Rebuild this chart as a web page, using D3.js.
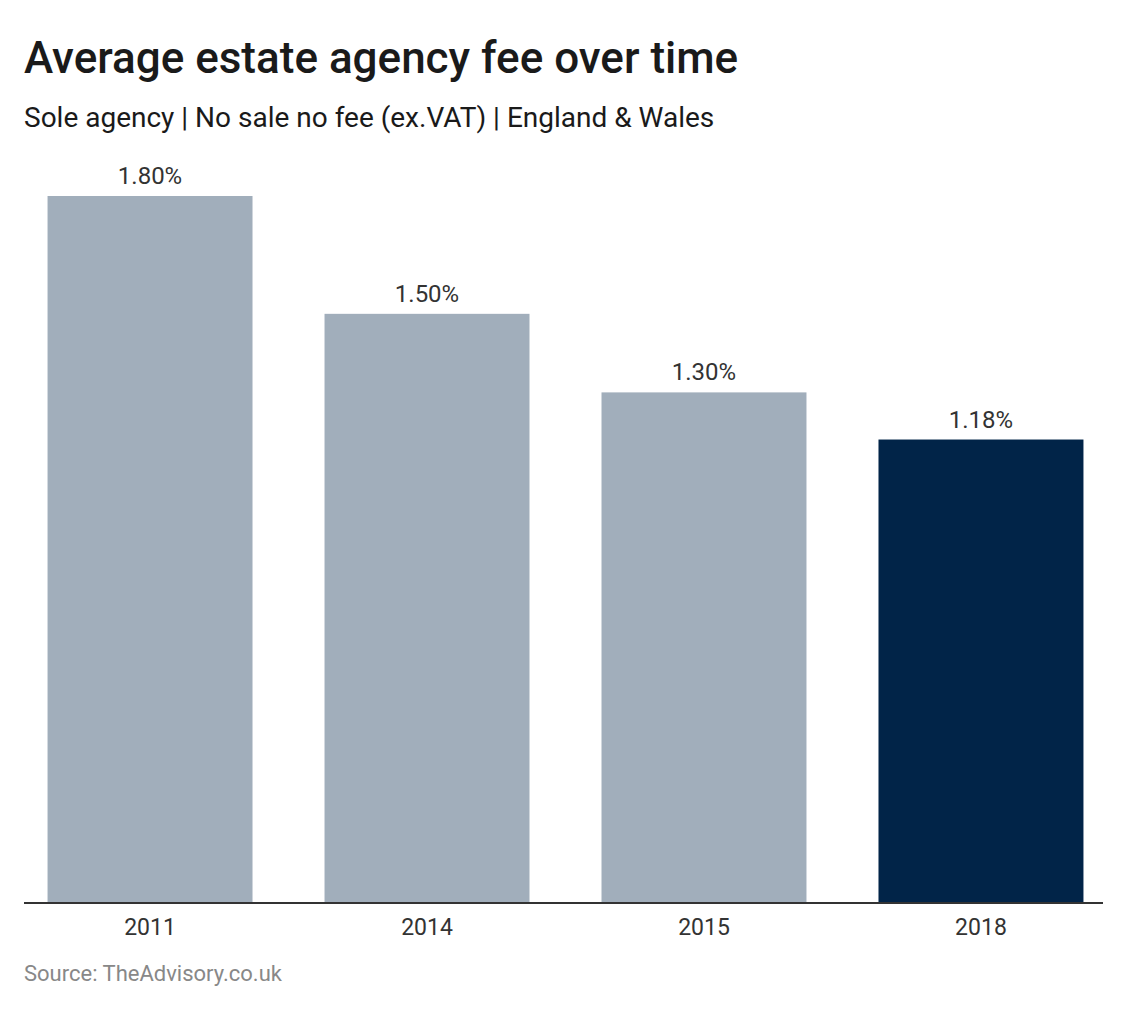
<!DOCTYPE html>
<html>
<head>
<meta charset="utf-8">
<script src="https://cdn.jsdelivr.net/npm/d3@7"></script>
<style>
  body { margin: 0; background: #fff; }
  svg { font-family: Roboto, "Noto Sans", sans-serif; }
</style>
</head>
<body>
<svg id="chart" width="1134" height="1010"></svg>
<script>
const years = ["2011", "2014", "2015", "2018"];
const fees = [1.80, 1.50, 1.30, 1.18];
const highlight = ["2018"];

const chart = d3.select("#chart");
const margin = {left: 24, right: 27, top: 196, bottom: 107};
const width = 1134, height = 1010;
const base = height - margin.bottom;

chart.append("text")
  .attr("x", 24).attr("y", 73)
  .style("font-size", "44px").style("font-weight", 500).style("fill", "#1a1a1a")
  .text("Average estate agency fee over time");

chart.append("text")
  .attr("x", 24).attr("y", 127)
  .style("font-size", "28px").style("fill", "#1a1a1a")
  .text("Sole agency | No sale no fee (ex.VAT) | England & Wales");

let x = d3.scaleBand()
  .domain(years)
  .range([margin.left, width - margin.right])
  .paddingInner(0.26)
  .paddingOuter(0.085);

let y = d3.scaleLinear()
  .domain([0, 1.80])
  .range([base, margin.top]);

const data = years.map((yr, i) => ({year: yr, fee: fees[i]}));

chart.selectAll(".bar")
  .data(data)
  .join("rect")
  .attr("class", "bar")
  .attr("x", d => x(d.year))
  .attr("width", x.bandwidth())
  .attr("y", d => y(d.fee))
  .attr("height", d => base - y(d.fee))
  .style("fill", d => highlight.includes(d.year) ? "#012448" : "#a1aebb");

chart.selectAll(".value")
  .data(data)
  .join("text")
  .attr("class", "value")
  .attr("x", d => x(d.year) + x.bandwidth() / 2)
  .attr("y", d => y(d.fee) - 12)
  .style("text-anchor", "middle")
  .style("font-size", "24px").style("fill", "#333")
  .text(d => d.fee.toFixed(2) + "%");

let x_axis = d3.axisBottom(x).tickSize(0).tickPadding(16);
let axis = chart.append("g")
  .attr("class", "x axis")
  .attr("transform", `translate(0,${base})`)
  .call(x_axis);
axis.select(".domain").attr("d", `M24,0H1103`).style("stroke", "#333").style("stroke-width", 2);
axis.selectAll("text")
  .style("font-family", "Roboto, sans-serif")
  .style("font-size", "23px").style("fill", "#333");

chart.append("text")
  .attr("x", 24).attr("y", 981)
  .style("font-size", "22px").style("fill", "#888")
  .text("Source: TheAdvisory.co.uk");
</script>
</body>
</html>
